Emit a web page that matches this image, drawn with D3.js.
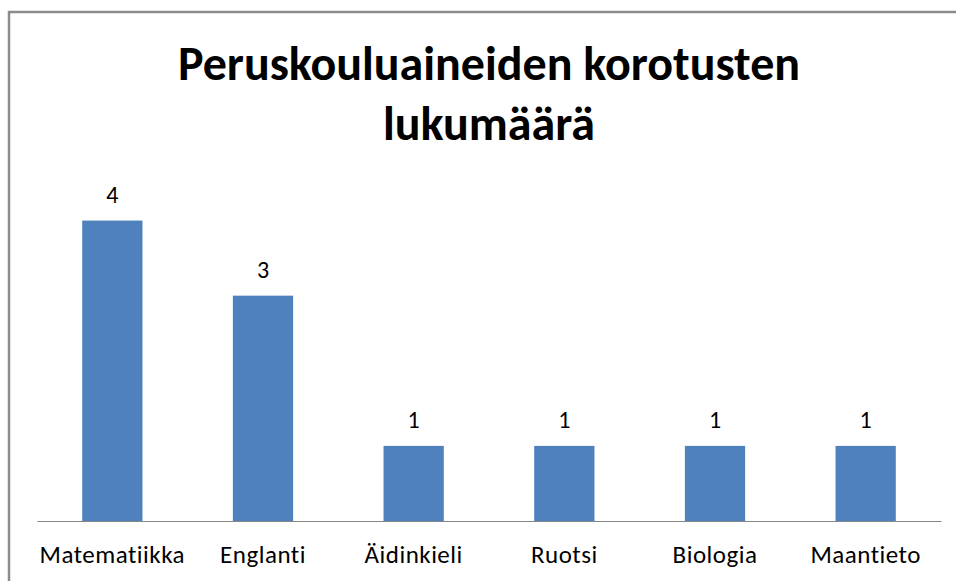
<!DOCTYPE html>
<html lang="fi">
<head>
  <meta charset="UTF-8">
  <title>korotukset</title>
  <script src="https://d3js.org/d3.v7.min.js"></script>
  <style>
    body { margin: 0; padding: 0; background: #fff; }
    #chart { width: 956px; height: 581px; }
    text { font-family: Carlito, Lato, "Open Sans", sans-serif; }
  </style>
</head>
<body>
  <div id="chart"></div>
<script>
  const categories = ['Matematiikka', 'Englanti', 'Äidinkieli', 'Ruotsi', 'Biologia', 'Maantieto']
  const values = [4, 3, 1, 1, 1, 1]
  const titleLines = ['Peruskouluaineiden korotusten', 'lukumäärä']

  const width = 956, height = 581
  const margin = { top: 145, right: 15, bottom: 60, left: 37 }

  const svg = d3.select('#chart')
    .append('svg')
    .attr('width', width)
    .attr('height', height)

  // outer frame (only top and left edges are visible in the picture)
  svg.append('rect')
    .attr('x', 9)
    .attr('y', 12)
    .attr('width', width + 20)
    .attr('height', height + 20)
    .attr('fill', 'none')
    .attr('stroke', '#8c8c8c')
    .attr('stroke-width', 2.5)

  const x = d3.scaleBand()
    .domain(categories)
    .range([margin.left, width - margin.right])
    .paddingInner(0.6)
    .paddingOuter(0.3)

  const y = d3.scaleLinear()
    .domain([0, 4.5])
    .range([height - margin.bottom, 183])

  svg.append('g')
    .selectAll('rect')
    .data(values)
    .join('rect')
    .attr('x', (d, i) => x(categories[i]))
    .attr('y', d => y(d))
    .attr('width', x.bandwidth())
    .attr('height', d => y(0) - y(d))
    .attr('fill', '#4f81bd')

  // data labels
  svg.append('g')
    .selectAll('text')
    .data(values)
    .join('text')
    .attr('x', (d, i) => x(categories[i]) + x.bandwidth() / 2)
    .attr('y', d => y(d) - 18)
    .attr('text-anchor', 'middle')
    .attr('font-size', 24)
    .attr('fill', '#000')
    .text(d => d)

  // x axis
  const xAxis = svg.append('g')
    .attr('transform', `translate(0,${y(0)})`)
    .call(d3.axisBottom(x).tickSize(0).tickPadding(24))
  xAxis.select('.domain').attr('stroke', '#868686').attr('stroke-width', 1.2)
  xAxis.selectAll('text')
    .attr('font-size', 25)
    .attr('letter-spacing', 0.5)
    .attr('fill', '#000')
    .style('font-family', 'Carlito, Lato, "Open Sans", sans-serif')

  // title
  svg.append('g')
    .selectAll('text')
    .data(titleLines)
    .join('text')
    .attr('x', 489)
    .attr('y', (d, i) => 80 + i * 60)
    .attr('text-anchor', 'middle')
    .attr('font-size', 48)
    .attr('font-weight', 'bold')
    .attr('fill', '#000')
    .text(d => d)
</script>
</body>
</html>
